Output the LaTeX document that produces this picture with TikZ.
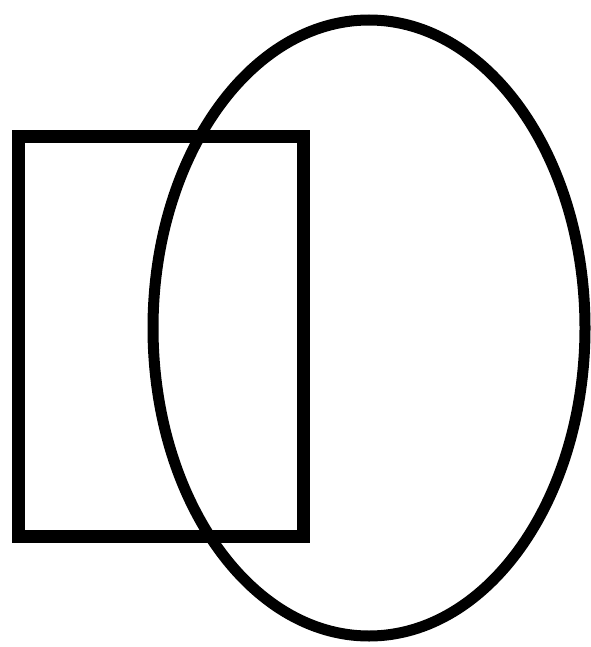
\documentclass[tikz,border=0pt]{standalone}
\begin{document}
\begin{tikzpicture}[x=1pt,y=-1pt,
  outline/.style={draw=black,line width=11pt}]
\useasboundingbox (0,0) rectangle (590,647);
\fill[white] (0,0) rectangle (590,647);
\node[outline,line width=13pt,minimum width=285pt,minimum height=399pt,inner sep=0pt] (box) at (160.5,336.5) {};
\draw[outline] (369,328) ellipse [x radius=216, y radius=308];
\coordinate (oval) at (369,328);
\end{tikzpicture}
\end{document}
